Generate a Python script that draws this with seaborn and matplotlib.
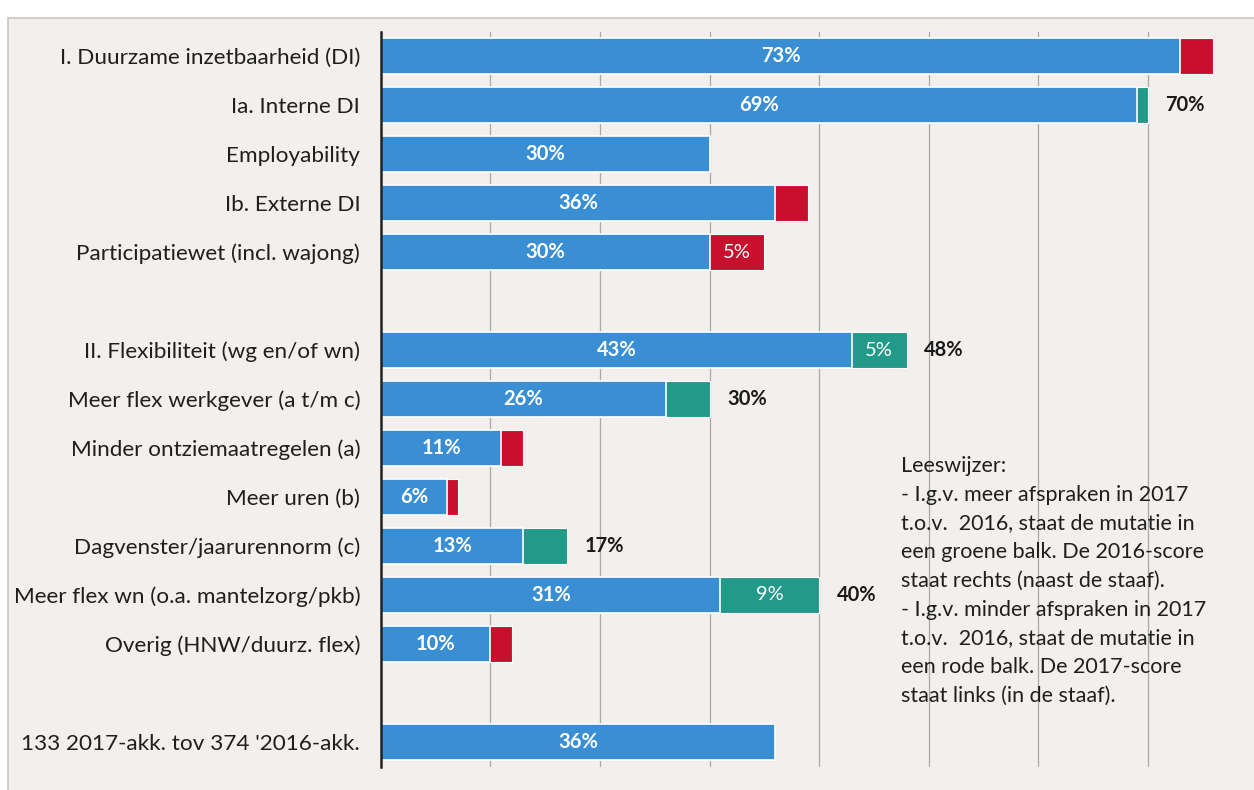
import matplotlib
matplotlib.use("Agg")
import matplotlib.pyplot as plt
from matplotlib.patches import Rectangle
import pandas as pd
import seaborn as sns

# Rows of the chart (empty strings are spacer rows between the groups)
categories = [
    "I. Duurzame inzetbaarheid (DI)",
    "Ia. Interne DI",
    "Employability",
    "Ib. Externe DI",
    "Participatiewet (incl. wajong)",
    "",
    "II. Flexibiliteit (wg en/of wn)",
    "Meer flex werkgever (a t/m c)",
    "Minder ontziemaatregelen (a)",
    "Meer uren (b)",
    "Dagvenster/jaarurennorm (c)",
    "Meer flex wn (o.a. mantelzorg/pkb)",
    "Overig (HNW/duurz. flex)",
    " ",
    "133 2017-akk. tov 374 '2016-akk.",
]

# Rows that carry data
bar_rows = [c for c in categories if c.strip()]
score = [73, 69, 30, 36, 30, 43, 26, 11, 6, 13, 31, 10, 36]
change = [3, 1, 0, 3, 5, 5, 4, 2, 1, 4, 9, 2, 0]
change_kind = ["min", "plus", "none", "min", "min", "plus", "plus",
               "min", "min", "plus", "plus", "min", "none"]

legend_lines = [
    "Leeswijzer:",
    "- I.g.v. meer afspraken in 2017",
    "t.o.v.  2016, staat de mutatie in",
    "een groene balk. De 2016-score",
    "staat rechts (naast de staaf).",
    "- I.g.v. minder afspraken in 2017",
    "t.o.v.  2016, staat de mutatie in",
    "een rode balk. De 2017-score",
    "staat links (in de staaf).",
]

BLUE = "#3a8fd4"
RED = "#c8102e"
GREEN = "#23998a"
PANEL = "#f2efec"

df = pd.DataFrame({
    "row": bar_rows,
    "score": score,
    "change": change,
    "kind": change_kind,
})
df["total"] = df["score"] + df["change"]

sns.set_theme(style="white")
plt.rcParams["font.family"] = ["Lato", "DejaVu Sans"]

fig = plt.figure(figsize=(12.54, 7.90), dpi=100)
fig.patch.set_facecolor("white")
panel = Rectangle((8 / 1254, -0.01), 1.0, 1 - 18 / 790 + 0.01,
                  transform=fig.transFigure, facecolor=PANEL,
                  edgecolor="#c9c6c3", linewidth=1.2, zorder=-10)
fig.patches.append(panel)

ax = fig.add_axes([381 / 1254, 23.5 / 790, (1240 - 381) / 1254, (766.5 - 31.5) / 790])
ax.set_facecolor("none")
ax.set_zorder(1)

# Total bar (2016 or 2017 score) coloured by direction of change
sns.barplot(data=df, y="row", x="total", hue="kind", order=categories,
            palette={"min": RED, "plus": GREEN, "none": BLUE},
            saturation=1, dodge=False, legend=False, width=0.72, ax=ax,
            edgecolor="white", linewidth=0.8)
# Base score bar on top
sns.barplot(data=df, y="row", x="score", order=categories, color=BLUE,
            saturation=1, width=0.72, ax=ax,
            edgecolor="white", linewidth=1.2)
for p in ax.patches:
    p.set_zorder(3)

ypos = {c: i for i, c in enumerate(categories)}
for _, r in df.iterrows():
    y = ypos[r["row"]]
    ax.text(r["score"] / 2, y, f"{r['score']}%", ha="center", va="center",
            color="white", fontsize=14.5, fontweight="bold", zorder=5)
    if r["change"] >= 5:
        ax.text(r["score"] + r["change"] / 2, y, f"{r['change']}%",
                ha="center", va="center", color="white", fontsize=14.5, zorder=5)
    if r["kind"] == "plus":
        ax.text(r["total"] + 1.6, y, f"{r['total']}%", ha="left", va="center",
                color="#1a1a1a", fontsize=14.5, fontweight="bold", zorder=5)

ax.set_xlim(0, (1240 - 381) / 10.95)
ax.set_ylim(len(categories) - 0.5, -0.5)
ax.set_xticks(range(10, 80, 10))
ax.set_xticklabels([])
ax.grid(axis="x", color="#a9a9a9", linewidth=0.9, zorder=0)
ax.grid(axis="y", visible=False)
ax.set_axisbelow(True)
ax.set_xlabel("")
ax.set_ylabel("")
for side in ["top", "right", "bottom"]:
    ax.spines[side].set_visible(False)
ax.spines["left"].set_color("#222222")
ax.spines["left"].set_linewidth(1.8)
ax.spines["left"].set_zorder(6)
ax.tick_params(axis="y", length=0, pad=15, labelsize=16.2, labelcolor="#1f1f1f")
ax.tick_params(axis="x", length=0)

for i, line in enumerate(legend_lines):
    fig.text(901 / 1254, 1 - (466 + 28.7 * i) / 790, line, ha="left", va="center",
             fontsize=15.5, color="#1f1f1f", zorder=7)

fig.savefig("out.png", dpi=100, facecolor=fig.get_facecolor())
